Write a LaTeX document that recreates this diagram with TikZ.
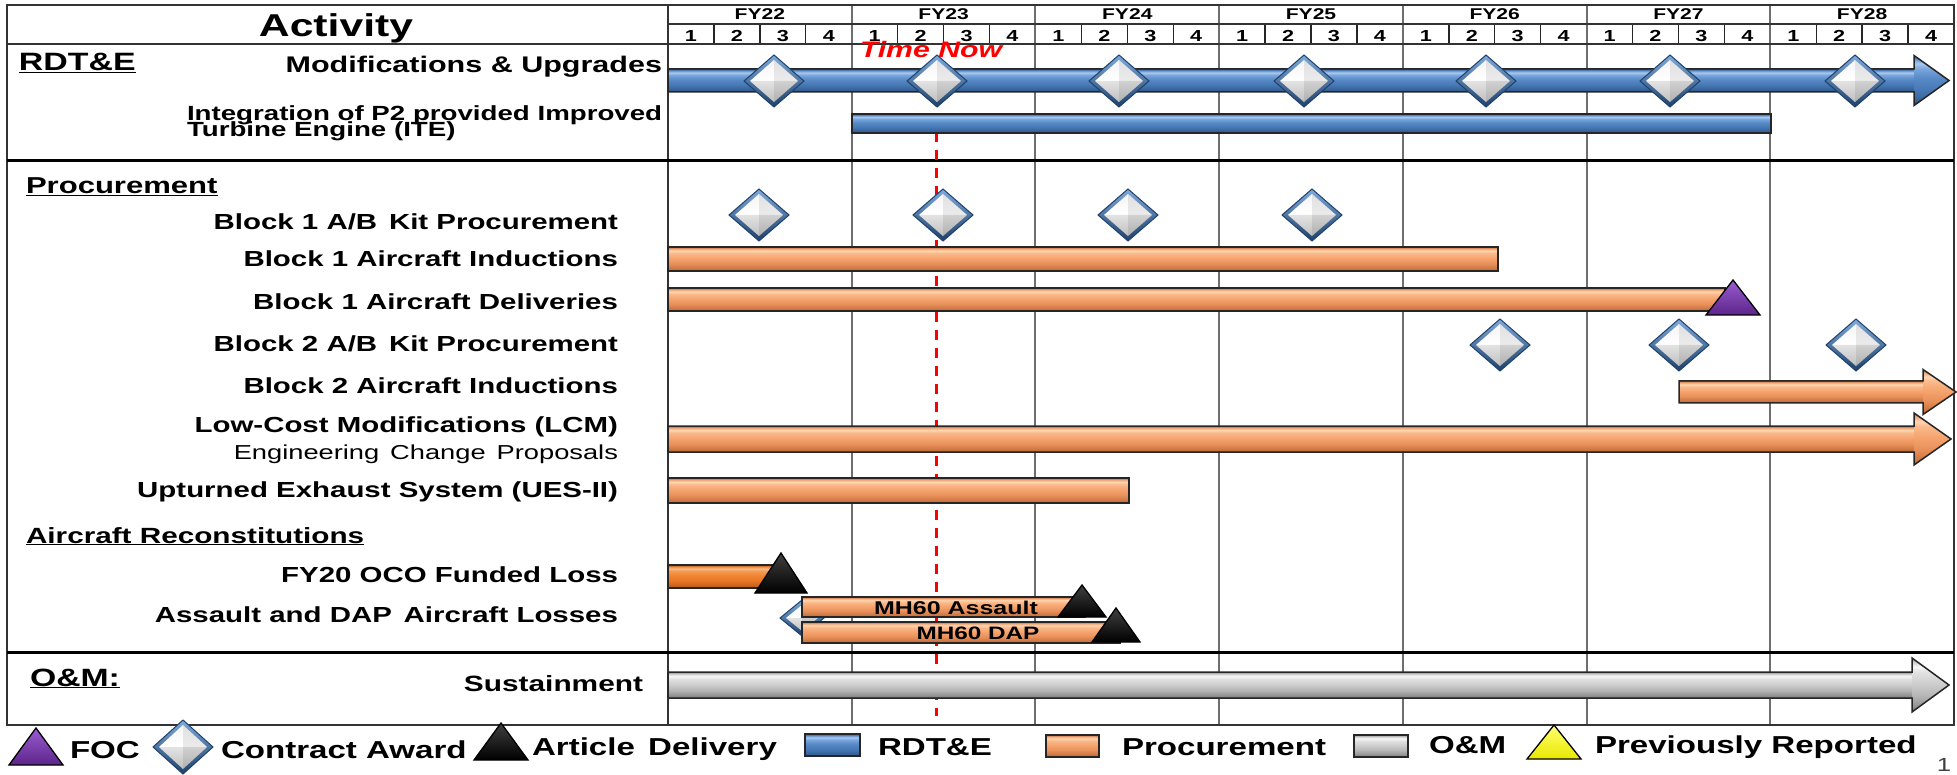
\documentclass[tikz,border=0pt]{standalone}
\usepackage{fontspec}
\setmainfont{Liberation Sans}[FakeStretch=1.35]
\usetikzlibrary{calc}
% bar colours (bottom -> top)
\definecolor{ob0}{HTML}{8B4A22}\definecolor{ob1}{HTML}{C9733F}\definecolor{ob2}{HTML}{E8905A}\definecolor{ob3}{HTML}{F6A46F}
\definecolor{ob4}{HTML}{FAB98A}\definecolor{ob5}{HTML}{FFD6B3}\definecolor{ob6}{HTML}{EFA06C}\definecolor{ob7}{HTML}{A55A2E}
\definecolor{bb0}{HTML}{203F66}\definecolor{bb1}{HTML}{345F93}\definecolor{bb2}{HTML}{4677B5}\definecolor{bb3}{HTML}{5689C6}
\definecolor{bb4}{HTML}{7AA6DC}\definecolor{bb5}{HTML}{A9CAF0}\definecolor{bb6}{HTML}{5D8CC8}\definecolor{bb7}{HTML}{2A4E7E}
\definecolor{gb0}{HTML}{5E5E5E}\definecolor{gb1}{HTML}{8E8E8E}\definecolor{gb2}{HTML}{B5B5B5}\definecolor{gb3}{HTML}{CFCFCF}
\definecolor{gb4}{HTML}{E2E2E2}\definecolor{gb5}{HTML}{F7F7F7}\definecolor{gb6}{HTML}{C8C8C8}\definecolor{gb7}{HTML}{7A7A7A}
\definecolor{db0}{HTML}{7F3A08}\definecolor{db1}{HTML}{C2601A}\definecolor{db2}{HTML}{E77526}\definecolor{db3}{HTML}{F08430}
\definecolor{db4}{HTML}{F49A55}\definecolor{db5}{HTML}{F9BC85}\definecolor{db6}{HTML}{E6843C}\definecolor{db7}{HTML}{93470E}
\definecolor{dlight}{HTML}{7FAADC}\definecolor{ddark}{HTML}{1F416B}
\definecolor{purT}{HTML}{9A5CD2}\definecolor{purB}{HTML}{5B2589}
\definecolor{yelT}{HTML}{FFFF70}\definecolor{yelB}{HTML}{E8E800}
\definecolor{gridc}{HTML}{6E6E6E}
\pgfdeclareverticalshading{orangebar}{100bp}{color(0bp)=(ob0); color(25bp)=(ob0); color(29bp)=(ob1); color(40bp)=(ob2); color(52bp)=(ob3); color(62bp)=(ob4); color(67bp)=(ob5); color(72bp)=(ob6); color(75bp)=(ob7); color(100bp)=(ob7)}
\pgfdeclareverticalshading{bluebar}{100bp}{color(0bp)=(bb0); color(25bp)=(bb0); color(29bp)=(bb1); color(40bp)=(bb2); color(52bp)=(bb3); color(62bp)=(bb4); color(67bp)=(bb5); color(72bp)=(bb6); color(75bp)=(bb7); color(100bp)=(bb7)}
\pgfdeclareverticalshading{greybar}{100bp}{color(0bp)=(gb0); color(25bp)=(gb0); color(29bp)=(gb1); color(40bp)=(gb2); color(52bp)=(gb3); color(62bp)=(gb4); color(67bp)=(gb5); color(72bp)=(gb6); color(75bp)=(gb7); color(100bp)=(gb7)}
\pgfdeclareverticalshading{darkorangebar}{100bp}{color(0bp)=(db0); color(25bp)=(db0); color(29bp)=(db1); color(40bp)=(db2); color(52bp)=(db3); color(62bp)=(db4); color(67bp)=(db5); color(72bp)=(db6); color(75bp)=(db7); color(100bp)=(db7)}
\newcommand\fz[1]{\fontsize{#1pt}{#1pt}\selectfont}
% bar: shading, x0, x1, yc, half height
\newcommand\gbar[5]{\shadedraw[shading=#1, edge] (#2,#4-#5) rectangle (#3,#4+#5);}
% arrow: shading, x0, head base, tip, yc, half shaft, half head
\newcommand\garrow[7]{%
  \shade[shading=#1] (#2,#5-#6) rectangle (#3+0.5,#5+#6);
  \shade[shading=#1] (#3,#5-#7) -- (#4,#5) -- (#3,#5+#7) -- cycle;
  \draw[edge] (#2,#5-#6) -- (#3,#5-#6) -- (#3,#5-#7) -- (#4,#5) -- (#3,#5+#7) -- (#3,#5+#6) -- (#2,#5+#6) -- cycle;}
% diamond: x, y, half width, half height
\newcommand\gdiam[4]{%
  \shadedraw[top color=dlight, bottom color=ddark, draw=ddark, line width=1pt, line join=miter]
     (#1,#2-#4) -- (#1+#3,#2) -- (#1,#2+#4) -- (#1-#3,#2) -- cycle;
  \shade[top color=gray!8, bottom color=white] (#1-#3+6,#2) -- (#1,#2-#4+5) -- (#1+#3-6,#2) -- cycle;
  \shade[top color=gray!22, bottom color=gray!50] (#1-#3+6,#2) -- (#1+#3-6,#2) -- (#1,#2+#4-5) -- cycle;
  \fill[black, opacity=0.08] (#1,#2-#4+5) -- (#1+#3-6,#2) -- (#1,#2+#4-5) -- cycle;}
% triangle: top colour, bottom colour, apex x, apex y, half width, base y
\newcommand\gtri[6]{\shadedraw[top color=#1, bottom color=#2, draw=black, line width=1.3pt, line join=miter] (#3,#4) -- (#3+#5,#6) -- (#3-#5,#6) -- cycle;}
\tikzset{
  edge/.style={draw=black!85, line width=1.5pt, line join=miter},
  gridln/.style={draw=black!80, line width=1.6pt},
  thickln/.style={draw=black, line width=3pt},
  yearln/.style={draw=gridc, line width=2pt},
  txt/.style={inner sep=0pt, outer sep=0pt},
  rowlbl/.style={txt, anchor=base east, font=\bfseries\fz{21.8}},
  head/.style={txt, anchor=base west, font=\bfseries\fz{#1}},
  leg/.style={txt, anchor=base west, font=\bfseries\fz{24.5}},
  hdr/.style={txt, anchor=base, font=\bfseries\fz{#1}},
}
\begin{document}
\begin{tikzpicture}[x=1pt, y=-1pt]
\useasboundingbox (0,0) rectangle (1957,775);
\fill[white] (0,0) rectangle (1957,775);
% ---------- grid ----------
\foreach \k in {1,...,6} \draw[yearln] ({668+\k*183.714},5) -- ({668+\k*183.714},725);
\foreach \k in {0,...,6} \foreach \q in {1,2,3}
  \draw[black!85, line width=1.4pt] ({668+\k*183.714+\q*45.93},24) -- ({668+\k*183.714+\q*45.93},44);
\draw[gridln] (7,5) rectangle (1954,725);
\draw[gridln] (668,5) -- (668,725);
\draw[gridln] (668,24) -- (1954,24);
\draw[gridln] (7,44) -- (1954,44);
\draw[thickln] (7,161) -- (1954,161);
\draw[thickln] (7,652) -- (1954,652);
% header texts
\node[txt, anchor=base, font=\bfseries\fz{31.6}] (activity) at (336,36.5) {Activity};
\foreach \k/\lab in {0/22,1/23,2/24,3/25,4/26,5/27,6/28}
  \node[hdr=15.6] (fy\lab) at ({668+(\k+0.5)*183.714},20) {FY\lab};
\foreach \k in {0,...,6} \foreach \q in {1,...,4}
  \node[hdr=16] (q\k\q) at ({668+\k*183.714+(\q-0.5)*45.93},41.5) {\q};
% ---------- time now ----------
\draw[red, line width=3pt, dash pattern=on 10pt off 8pt] (936,60) -- (936,716);
% ---------- bars ----------
\garrow{bluebar}{668}{1914}{1949}{80.5}{11.5}{25}
\gbar{bluebar}{852}{1771}{123.5}{9.5}
\gbar{orangebar}{668}{1498}{259}{12}
\gbar{orangebar}{668}{1725}{299.5}{11.5}
\garrow{orangebar}{1679}{1923}{1956}{392}{11}{22.5}
\garrow{orangebar}{668}{1914}{1951}{439}{13}{26}
\gbar{orangebar}{668}{1129}{490.5}{12.5}
\gbar{darkorangebar}{668}{778}{576.5}{11.5}
\gdiam{802}{618}{22}{18}
\gbar{orangebar}{802}{1085}{607}{10}
\gbar{orangebar}{802}{1120}{632.5}{10.5}
\garrow{greybar}{668}{1912}{1949}{685}{13}{27}
% ---------- milestones ----------
\foreach \x in {774,937,1119,1304,1486,1670,1855} {\gdiam{\x}{81}{30}{26}}
\foreach \x in {759,943,1128,1312} {\gdiam{\x}{215}{30}{26}}
\foreach \x in {1500,1679,1856} {\gdiam{\x}{345}{30}{26}}
\gtri{purT}{purB}{1733}{280}{27}{315}
\gtri{black!75}{black}{781}{553}{26}{593}
\gtri{black!75}{black}{1082}{585}{24}{617}
\gtri{black!75}{black}{1116}{608}{24}{642}
\node[txt, anchor=base, font=\bfseries\fz{18.5}] (mhA) at (956,614) {MH60 Assault};
\node[txt, anchor=base, font=\bfseries\fz{18}] (mhD) at (978,639) {MH60 DAP};
\node[txt, anchor=base, text=red, font=\bfseries\itshape\fz{22.4}] (tnow) at (931,58) {Time Now};
% ---------- activity labels ----------
\node[head=25.1] (hR) at (19,71) {\underline{RDT\&E}};
\node[txt, anchor=base east, font=\bfseries\fz{22.6}] (mods) at (662,73) {Modifications \& Upgrades};
\node[txt, anchor=base west, font=\bfseries\fz{20.5}] (ite1) at (187,120.5) {Integration of P2 provided Improved};
\node[txt, anchor=base west, font=\bfseries\fz{20.5}] (ite2) at (187,136.5) {Turbine Engine (ITE)};
\node[head=23] (hP) at (26,193.5) {\underline{Procurement}};
\node[rowlbl] (l1) at (618,229.8) {Block 1 A/B\, Kit Procurement};
\node[rowlbl] (l2) at (618,266.8) {Block 1 Aircraft Inductions};
\node[rowlbl] (l3) at (618,309.8) {Block 1 Aircraft Deliveries};
\node[rowlbl] (l4) at (618,351.8) {Block 2 A/B\, Kit Procurement};
\node[rowlbl] (l5) at (618,393.8) {Block 2 Aircraft Inductions};
\node[rowlbl] (l6) at (618,432.8) {Low-Cost Modifications (LCM)};
\node[txt, anchor=base east, font=\fz{20.2}] (l6b) at (618,459.5) {Engineering\, Change\, Proposals};
\node[rowlbl] (l7) at (618,497.8) {Upturned Exhaust System (UES-II)};
\node[head=22] (hA) at (26,543) {\underline{Aircraft Reconstitutions}};
\node[rowlbl] (l8) at (618,582.8) {FY20 OCO Funded Loss};
\node[rowlbl] (l9) at (618,622.8) {Assault and DAP\, Aircraft Losses};
\node[head=25] (hO) at (30,686) {\underline{O\&M:}};
\node[txt, anchor=base east, font=\bfseries\fz{22.1}] (l10) at (643,691) {Sustainment};
% ---------- legend ----------
\gtri{purT}{purB}{36}{728}{27}{765}
\node[leg] (gFOC) at (70,758) {FOC};
\gdiam{183}{747}{30}{27}
\node[leg] (gCA) at (221,758) {Contract Award};
\gtri{black!75}{black}{501}{723}{27}{760}
\node[leg] (gAD) at (532,755) {Article\, Delivery};
\shadedraw[shading=bluebar, edge, line width=2pt] (805,734) rectangle (860,756);
\node[leg] (gR) at (878,755) {RDT\&E};
\shadedraw[shading=orangebar, edge, line width=2pt] (1046,735) rectangle (1099,757);
\node[leg] (gP) at (1122,755) {Procurement};
\shadedraw[shading=greybar, edge, line width=2pt] (1354,735) rectangle (1408,757);
\node[leg] (gO) at (1429,753) {O\&M};
\gtri{yelT}{yelB}{1554}{725}{27}{759}
\node[leg] (gPR) at (1595,753) {Previously Reported};
\node[txt, anchor=base, font=\fz{19}, text=black!75] (pg) at (1944,771) {1};
\end{tikzpicture}
\end{document}
